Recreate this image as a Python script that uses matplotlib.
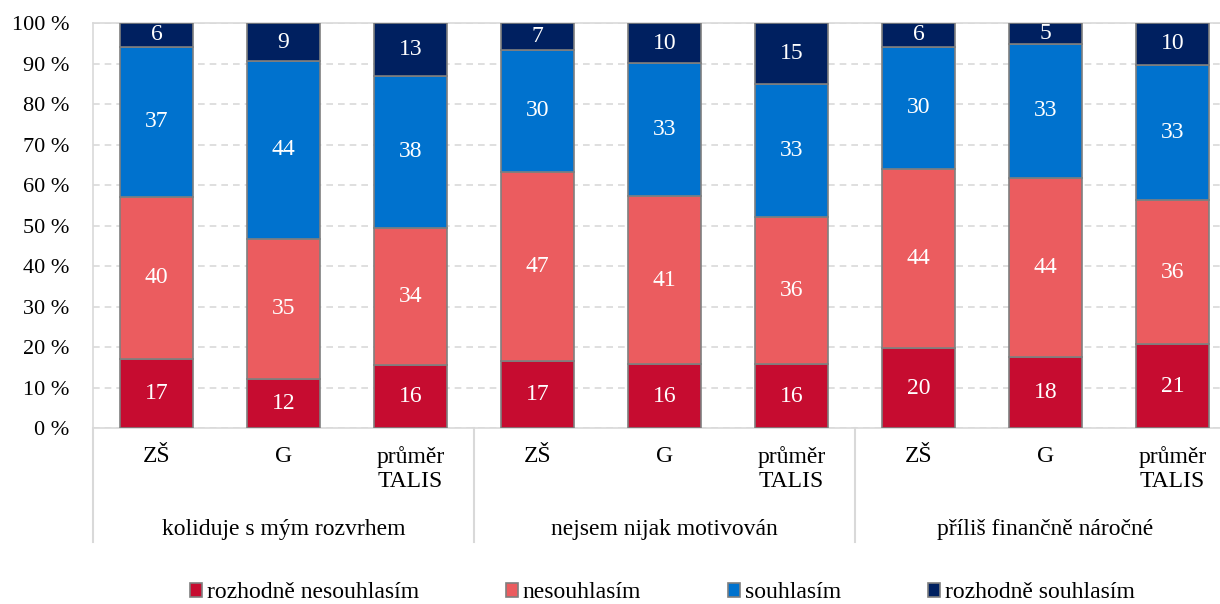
import numpy as np
import matplotlib.pyplot as plt

plt.rcParams['font.family'] = ['Liberation Serif', 'DejaVu Serif']

groups = ["koliduje s mým rozvrhem", "nejsem nijak motivován", "příliš finančně náročné"]
categories = ["ZŠ", "G", "průměr\nTALIS"] * 3
series = ["rozhodně nesouhlasím", "nesouhlasím", "souhlasím", "rozhodně souhlasím"]

# percentages, per bar
strongly_disagree = [17.2, 12.1, 15.6, 16.7, 15.8, 15.8, 19.7, 17.7, 20.7]
disagree = [39.9, 34.7, 33.8, 46.6, 41.4, 36.4, 44.4, 44.1, 35.6]
agree = [37.0, 43.8, 37.6, 30.0, 32.9, 32.7, 30.0, 33.0, 33.4]
strongly_agree = [5.9, 9.4, 13.0, 6.7, 9.9, 15.1, 5.9, 5.2, 10.3]

colors = ["#C60C30", "#EB5C5F", "#0072CE", "#002060"]
grid_col = "#D9D9D9"
fs = 17

fig = plt.figure(figsize=(12.2, 6.04), dpi=100)
W, H = 1220, 604
ax = fig.add_axes([93 / W, (H - 428.3) / H, 1143 / W, 405.3 / H])

x = np.arange(len(categories))
bottom = np.zeros(len(categories))
for vals, col, name in zip([strongly_disagree, disagree, agree, strongly_agree],
                           colors, series):
    vals = np.array(vals)
    bars = ax.bar(x, vals, 0.578, bottom=bottom, color=col, edgecolor="#7F7F7F",
                  linewidth=1.2, label=name, zorder=3)
    for b, v, b0 in zip(bars, vals, bottom):
        ax.text(b.get_x() + b.get_width() / 2, b0 + v / 2, f"{v:.0f}",
                ha="center", va="center", color="white", fontsize=fs, zorder=4)
    bottom += vals

ax.set_xlim(-0.5, len(categories) - 0.5)
ax.set_ylim(0, 100)
ax.set_yticks(np.arange(0, 101, 10))
ax.set_yticklabels([f"{v} %" for v in range(0, 101, 10)], fontsize=16)
ax.tick_params(axis="y", length=0, pad=17)
ax.set_xticks([])
ax.yaxis.grid(True, color=grid_col, linestyle=(0, (4, 3)), linewidth=1.2, zorder=0)
for s in ax.spines.values():
    s.set_color(grid_col)
    s.set_linewidth(1.2)

# two-level category axis
trans = ax.get_xaxis_transform()
for xi, cat in zip(x, categories):
    ax.text(xi, -0.043, cat, transform=trans, ha="center", va="top",
            fontsize=fs, linespacing=1.2, clip_on=False)
for gi, g in enumerate(groups):
    ax.text(gi * 3 + 1, -0.25, g, transform=trans, ha="center", va="center",
            fontsize=fs, clip_on=False)
for sep in [-0.5, 2.5, 5.5]:
    ax.plot([sep, sep], [0, -0.28], transform=trans, color=grid_col,
            linewidth=1.5, clip_on=False)

fig.legend(loc="center", bbox_to_anchor=(0.543, 1 - 593 / H), ncol=4, frameon=False,
           fontsize=fs, handlelength=0.5, handleheight=0.5, handletextpad=0.2,
           columnspacing=3.7)

fig.savefig("out.png", dpi=100)
